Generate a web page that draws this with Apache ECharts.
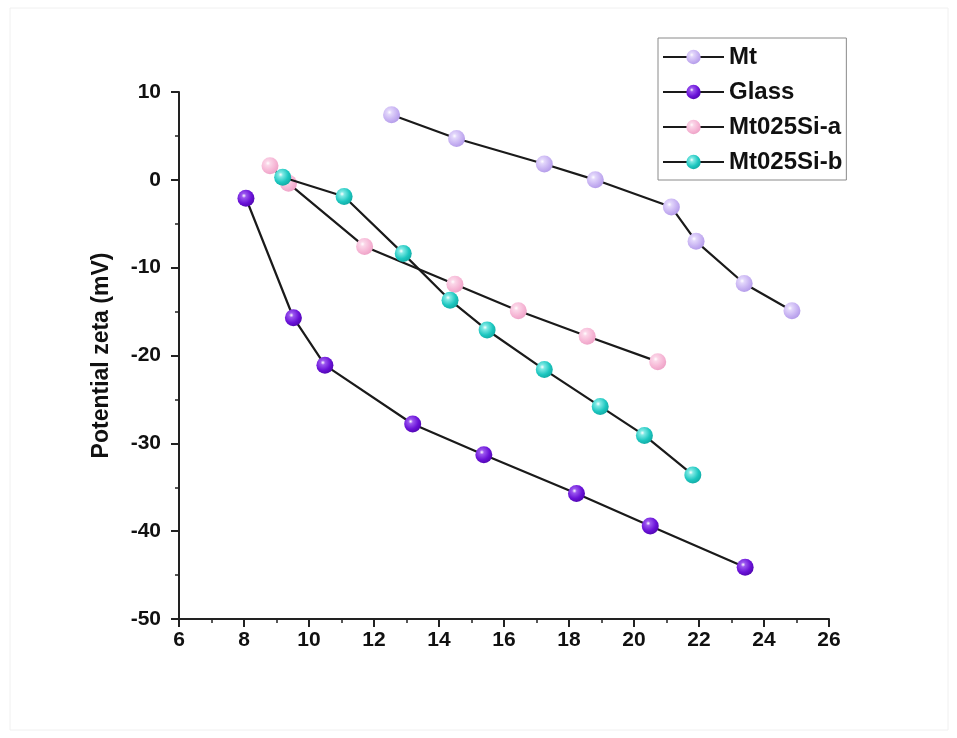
<!DOCTYPE html>
<html>
<head>
<meta charset="utf-8">
<script src="https://cdn.jsdelivr.net/npm/echarts@6/dist/echarts.min.js"></script>
<style>
html,body{margin:0;padding:0;background:#fff;}
#chart{width:957px;height:738px;}
</style>
</head>
<body>
<div id="chart"></div>
<script>
// ---- data ----
const seriesNames = ['Mt', 'Glass', 'Mt025Si-a', 'Mt025Si-b'];
const mtX = [12.54, 14.54, 17.24, 18.81, 21.15, 21.91, 23.39, 24.86];
const mtY = [7.4, 4.7, 1.8, 0.0, -3.1, -7.0, -11.8, -14.9];
const glassX = [8.06, 9.52, 10.49, 13.19, 15.38, 18.23, 20.5, 23.42];
const glassY = [-2.1, -15.7, -21.1, -27.8, -31.3, -35.7, -39.4, -44.1];
const siaX = [8.8, 9.37, 11.71, 14.49, 16.44, 18.56, 20.73];
const siaY = [1.6, -0.4, -7.6, -11.9, -14.9, -17.8, -20.7];
const sibX = [9.19, 11.08, 12.9, 14.34, 15.48, 17.24, 18.96, 20.32, 21.81];
const sibY = [0.3, -1.9, -8.4, -13.7, -17.1, -21.6, -25.8, -29.1, -33.6];
const xTicks = [6, 8, 10, 12, 14, 16, 18, 20, 22, 24, 26];
const yTicks = [-50, -40, -30, -20, -10, 0, 10];

function pairs(xs, ys) { return xs.map((x, i) => [x, ys[i]]); }
function sphere(light, base, dark) {
  return {
    type: 'radial', x: 0.38, y: 0.35, r: 0.75,
    colorStops: [
      { offset: 0, color: '#ffffff' },
      { offset: 0.18, color: light },
      { offset: 0.6, color: base },
      { offset: 1, color: dark }
    ]
  };
}
const fills = [
  sphere('#e2d6fb', '#c7b2f2', '#ad94e6'),
  sphere('#9a55ee', '#6a12d8', '#4a04a6'),
  sphere('#fbd6e8', '#f6b6d5', '#eb9cc2'),
  sphere('#7ee9e4', '#1dc7c0', '#0fa29c')
];
const datasets = [pairs(mtX, mtY), pairs(glassX, glassY), pairs(siaX, siaY), pairs(sibX, sibY)];

const font = '"Liberation Sans", Arial, sans-serif';
const chart = echarts.init(document.getElementById('chart'), null, { renderer: 'canvas' });
chart.setOption({
  backgroundColor: '#ffffff',
  animation: false,
  graphic: [{
    type: 'rect', silent: true, z: -10,
    shape: { x: 10, y: 8, width: 938, height: 722 },
    style: { fill: 'none', stroke: '#f0f0f0', lineWidth: 1 }
  }],
  grid: { left: 179, right: 128, top: 92, bottom: 119, containLabel: false },
  legend: {
    data: seriesNames,
    orient: 'vertical',
    left: 658, top: 38,
    padding: [7, 4, 6, 4],
    itemWidth: 61, itemHeight: 18, itemGap: 11,
    borderColor: '#8a8a8a', borderWidth: 1,
    textStyle: { fontFamily: font, fontWeight: 'bold', fontSize: 24, lineHeight: 23, color: '#111', padding: [0, 0, 0, 0] }
  },
  xAxis: {
    type: 'value', min: 6, max: 26, interval: 2,
    axisLine: { onZero: false, lineStyle: { color: '#222', width: 2 } },
    axisTick: { show: true, inside: false, length: 8, lineStyle: { color: '#222', width: 2 } },
    minorTick: { show: true, splitNumber: 2, length: 4, lineStyle: { color: '#222', width: 1.5 } },
    splitLine: { show: false },
    axisLabel: {
      margin: 11, fontFamily: font, fontWeight: 'bold', fontSize: 21, color: '#111',
      formatter: v => (xTicks.indexOf(v) >= 0 ? String(v) : '')
    }
  },
  yAxis: {
    type: 'value', min: -50, max: 10, interval: 10,
    name: 'Potential zeta (mV)', nameLocation: 'middle', nameGap: 66,
    nameTextStyle: { fontFamily: font, fontWeight: 'bold', fontSize: 23, color: '#111' },
    axisLine: { onZero: false, lineStyle: { color: '#222', width: 2 } },
    axisTick: { show: true, inside: false, length: 8, lineStyle: { color: '#222', width: 2 } },
    minorTick: { show: true, splitNumber: 2, length: 4, lineStyle: { color: '#222', width: 1.5 } },
    splitLine: { show: false },
    axisLabel: {
      margin: 18, fontFamily: font, fontWeight: 'bold', fontSize: 21, color: '#111',
      formatter: v => (yTicks.indexOf(v) >= 0 ? String(v) : '')
    }
  },
  series: seriesNames.map((name, i) => ({
    name: name,
    type: 'line',
    data: datasets[i],
    symbol: 'circle',
    symbolSize: 17,
    showSymbol: true,
    lineStyle: { color: '#1a1a1a', width: 2.2 },
    itemStyle: { color: fills[i], borderWidth: 0 },
    z: 2 + i
  }))
});
</script>
</body>
</html>
